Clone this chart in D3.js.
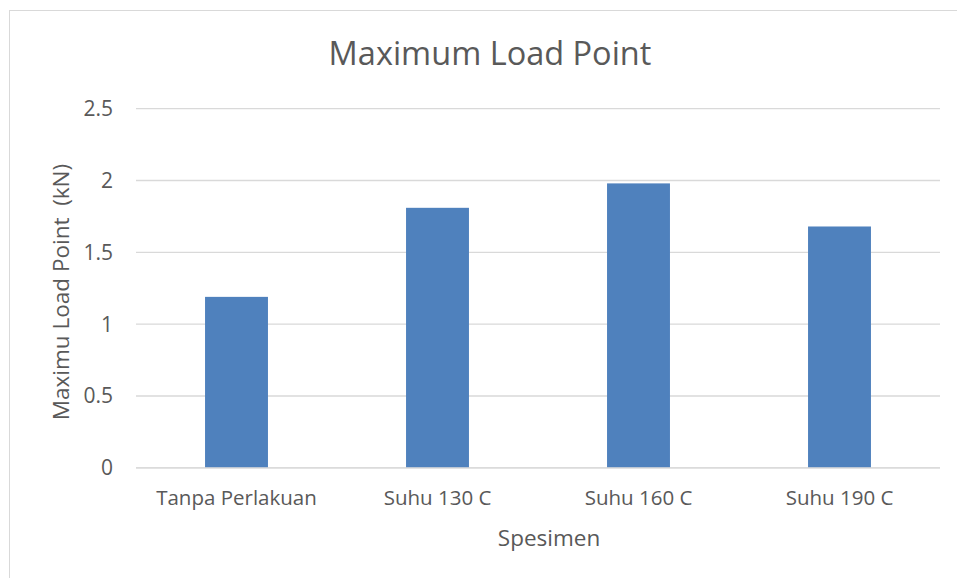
<!DOCTYPE html>
<html>
<head>
<meta charset="utf-8">
<script src="https://cdn.jsdelivr.net/npm/d3@7"></script>
<style>
  html, body { margin: 0; padding: 0; background: #fff; }
  svg { display: block; font-family: "Open Sans", "Noto Sans", sans-serif; }
</style>
</head>
<body>
<svg id="chart" width="957" height="578"></svg>
<script>
// Specimen categories and their maximum load values (kN)
const categories = ["Tanpa Perlakuan", "Suhu 130 C", "Suhu 160 C", "Suhu 190 C"];
const loadValues = [1.19, 1.81, 1.98, 1.68];
const yTicks = [0, 0.5, 1, 1.5, 2, 2.5];
const yTickLabels = ["0", "0.5", "1", "1.5", "2", "2.5"];

const svg = d3.select("#chart");
const W = 957, H = 578;
const plot = { left: 136, right: 940, top: 108.7, bottom: 467.8 };
const textColor = "#595959";

// Outer chart frame (extends past the right and bottom edges)
svg.append("rect")
  .attr("x", 9.5).attr("y", 10.5)
  .attr("width", W + 20).attr("height", H + 20)
  .attr("fill", "#fff")
  .attr("stroke", "#d9d9d9").attr("stroke-width", 1);

const x = d3.scaleBand()
  .domain(categories)
  .range([plot.left, plot.right])
  .paddingInner(0.687)
  .paddingOuter(0.3435);

const y = d3.scaleLinear()
  .domain([0, 2.5])
  .range([plot.bottom, plot.top]);

// Horizontal gridlines
svg.append("g")
  .selectAll("line")
  .data(yTicks)
  .join("line")
  .attr("x1", plot.left).attr("x2", plot.right)
  .attr("y1", d => y(d)).attr("y2", d => y(d))
  .attr("stroke", "#d9d9d9").attr("stroke-width", 1.3);

// Y tick labels
svg.append("g")
  .selectAll("text")
  .data(yTicks)
  .join("text")
  .attr("x", 113)
  .attr("y", d => y(d))
  .attr("dy", "0.35em")
  .attr("text-anchor", "end")
  .attr("font-size", 21)
  .attr("fill", textColor)
  .text((d, i) => yTickLabels[i]);

// Bars
svg.append("g")
  .selectAll("rect")
  .data(loadValues)
  .join("rect")
  .attr("x", (d, i) => x(categories[i]))
  .attr("width", x.bandwidth())
  .attr("y", d => y(d))
  .attr("height", d => y(0) - y(d))
  .attr("fill", "#4f81bd");

// Baseline
svg.append("line")
  .attr("x1", plot.left).attr("x2", plot.right)
  .attr("y1", y(0)).attr("y2", y(0))
  .attr("stroke", "#d9d9d9").attr("stroke-width", 1.3);

// Category labels
svg.append("g")
  .selectAll("text")
  .data(categories)
  .join("text")
  .attr("x", d => x(d) + x.bandwidth() / 2)
  .attr("y", 498)
  .attr("dy", "0.35em")
  .attr("text-anchor", "middle")
  .attr("font-size", 20.5)
  .attr("fill", textColor)
  .text(d => d);

// Title
svg.append("text")
  .attr("x", 490).attr("y", 54)
  .attr("dy", "0.35em")
  .attr("text-anchor", "middle")
  .attr("font-size", 32.5)
  .attr("fill", textColor)
  .text("Maximum Load Point");

// X axis title
svg.append("text")
  .attr("x", 549).attr("y", 538)
  .attr("dy", "0.35em")
  .attr("text-anchor", "middle")
  .attr("font-size", 22.5)
  .attr("fill", textColor)
  .text("Spesimen");

// Y axis title
svg.append("text")
  .attr("transform", "translate(61,292) rotate(-90)")
  .attr("dy", "0.35em")
  .attr("text-anchor", "middle")
  .attr("font-size", 22.5)
  .attr("fill", textColor)
  .attr("xml:space", "preserve")
  .style("white-space", "pre")
  .text("Maximu Load Point  (kN)");
</script>
</body>
</html>
